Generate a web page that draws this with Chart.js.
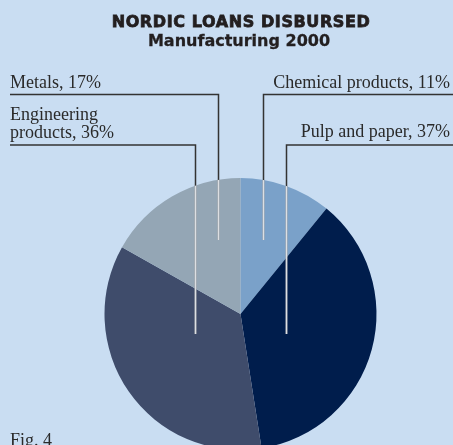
<!DOCTYPE html>
<html>
<head>
<meta charset="utf-8">
<script src="https://cdn.jsdelivr.net/npm/chart.js@4/dist/chart.umd.min.js"></script>
<style>
  html, body { margin: 0; padding: 0; background: #c9ddf2; }
  #frame { width: 453px; height: 445px; overflow: hidden; }
  #box { width: 453px; height: 452px; position: relative; }
</style>
</head>
<body>
<div id="frame"><div id="box"><canvas id="loansPie"></canvas></div></div>
<script>
// manufacturing loans by sector, percent of total
const categories = ['Chemical products', 'Pulp and paper', 'Engineering\nproducts', 'Metals']
const shares = [11, 37, 36, 17]
const sliceColors = ['#7aa1c9', '#001d4c', '#3f4c6b', '#94a6b5']

const titleLines = ['NORDIC LOANS DISBURSED', 'Manufacturing 2000']
const figNote = 'Fig. 4'

// where each callout sits: baseline of its last text line, underline height,
// leader x offset from pie centre and where the leader stops (from centre)
const callouts = [
    { side: 'right', textY: 88, lineY: 94.5, dx: 22.5, endDy: -74 },
    { side: 'right', textY: 137, lineY: 145, dx: 45.5, endDy: 20 },
    { side: 'left', textY: 138, lineY: 145, dx: -45.5, endDy: 20 },
    { side: 'left', textY: 88, lineY: 94.5, dx: -22.5, endDy: -74 }
]

const calloutPlugin = {
    id: 'callouts',
    afterDatasetsDraw(chart) {
        const ctx = chart.ctx
        const arc = chart.getDatasetMeta(0).data[0]
        const cx = arc.x, cy = arc.y, r = arc.outerRadius
        const W = chart.width

        ctx.save()
        // titles (first line extra heavy)
        ctx.fillStyle = '#231f20'
        ctx.strokeStyle = '#231f20'
        ctx.textAlign = 'center'
        ctx.textBaseline = 'alphabetic'
        ctx.font = 'bold 16px "DejaVu Sans"'
        ctx.letterSpacing = '0.6px'
        ctx.lineWidth = 0.8
        ctx.fillText(titleLines[0], 241, 27)
        ctx.strokeText(titleLines[0], 241, 27)
        ctx.letterSpacing = '0px'
        ctx.font = 'bold 16px "DejaVu Sans"'
        ctx.lineWidth = 0.3
        ctx.fillText(titleLines[1], 239, 46)
        ctx.strokeText(titleLines[1], 239, 46)

        // labels + leader lines
        ctx.font = '18px "Liberation Serif"'
        ctx.fillStyle = '#2a2a2a'
        callouts.forEach((c, i) => {
            const lines = categories[i].split('\n')
            lines[lines.length - 1] += ', ' + shares[i] + '%'
            ctx.textAlign = c.side === 'left' ? 'left' : 'right'
            const tx = c.side === 'left' ? 10 : 450
            const firstY = c.textY - (lines.length - 1) * 18
            lines.forEach((t, k) => ctx.fillText(t, tx, firstY + k * 18))

            const vx = Math.round(cx + c.dx) + 0.5
            const endY = cy + c.endDy
            const startX = c.side === 'left' ? 10 : W
            ctx.strokeStyle = '#333333'
            ctx.lineWidth = 1.5
            ctx.beginPath()
            ctx.moveTo(startX, c.lineY)
            ctx.lineTo(vx, c.lineY)
            ctx.lineTo(vx, endY)
            ctx.stroke()

            // inside the pie the leader turns pale
            ctx.save()
            ctx.beginPath()
            ctx.arc(cx, cy, r, 0, Math.PI * 2)
            ctx.clip()
            ctx.strokeStyle = '#dcdfe3'
            ctx.lineWidth = 1.8
            ctx.beginPath()
            ctx.moveTo(vx, c.lineY)
            ctx.lineTo(vx, endY)
            ctx.stroke()
            ctx.restore()
        })

        ctx.textAlign = 'left'
        ctx.fillText(figNote, 10, 446)
        ctx.restore()
    }
}

const ctx = document.getElementById('loansPie').getContext('2d')
const loansChart = new Chart(ctx, {
    type: 'pie',
    data: {
        labels: categories,
        datasets: [{
            data: shares,
            backgroundColor: sliceColors,
            borderWidth: 0
        }]
    },
    options: {
        responsive: true,
        maintainAspectRatio: false,
        animation: false,
        events: [],
        layout: { padding: { left: 104.5, right: 76.5, top: 178, bottom: 2 } },
        plugins: {
            legend: { display: false },
            tooltip: { enabled: false },
            title: { display: false }
        }
    },
    plugins: [calloutPlugin]
})
</script>
</body>
</html>
